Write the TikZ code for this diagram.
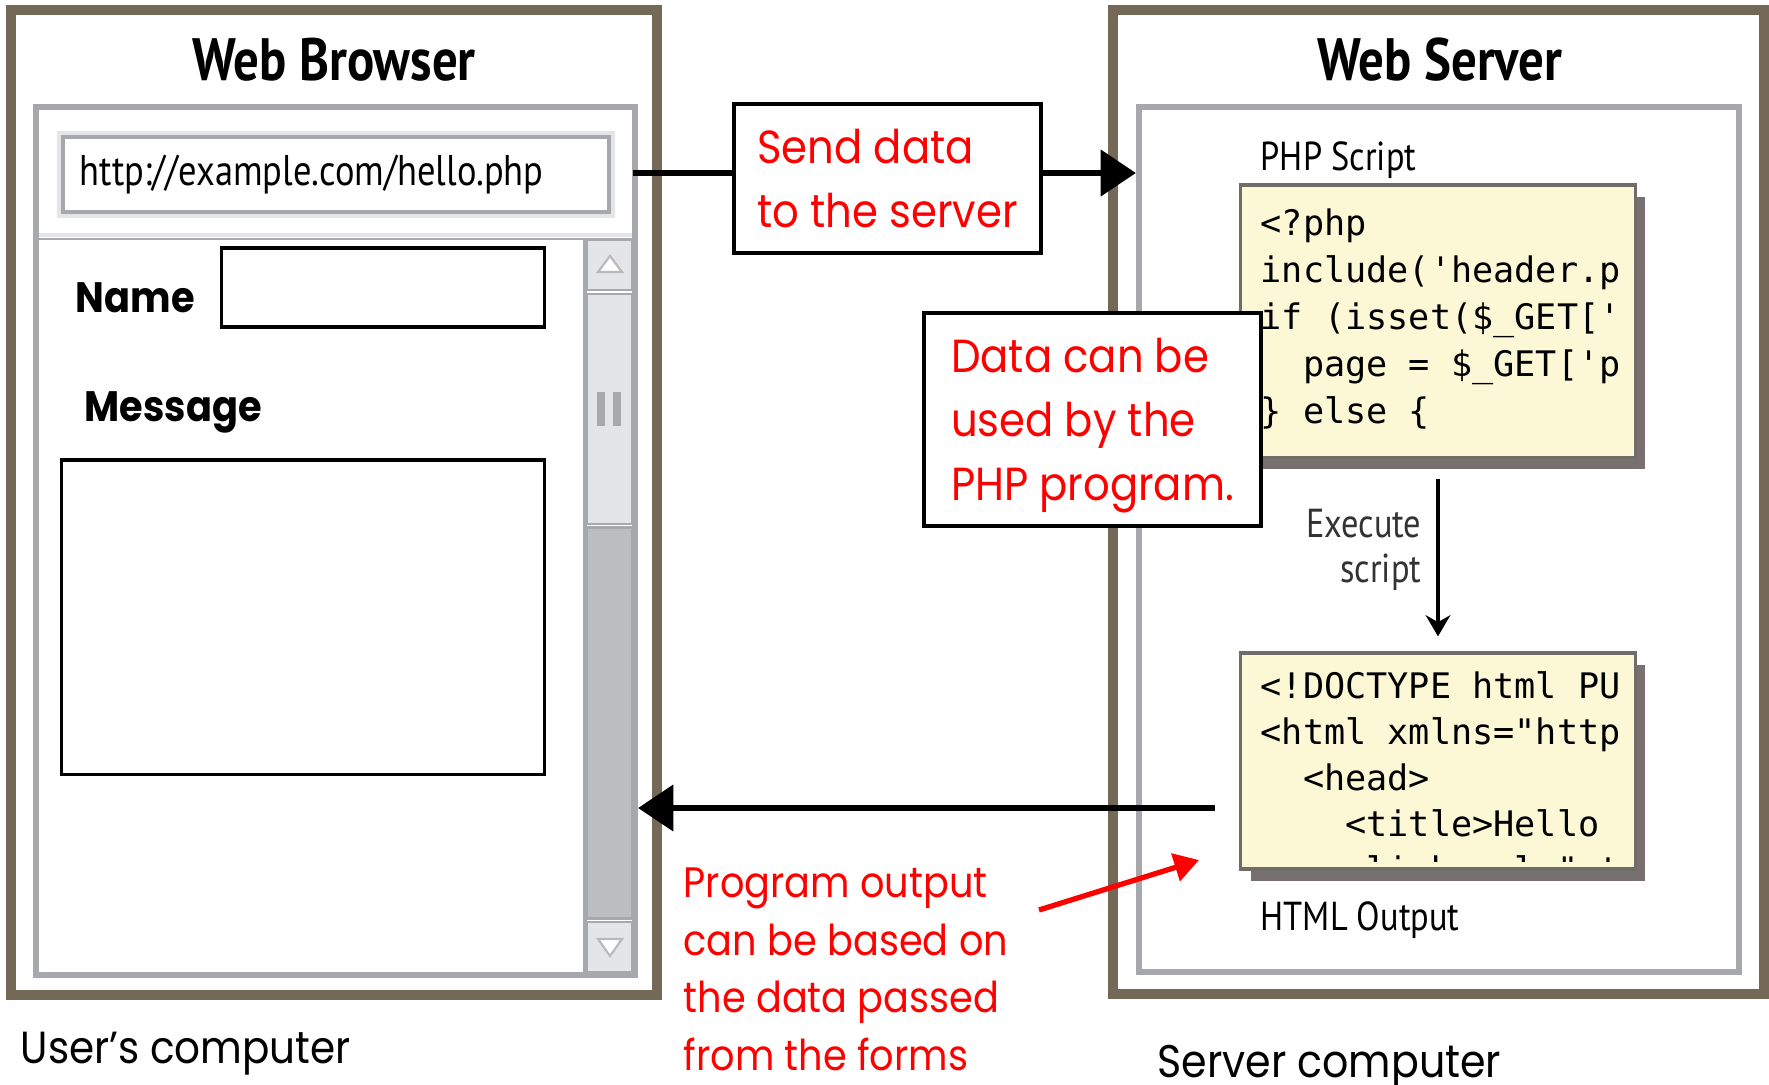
\documentclass[tikz,border=0pt]{standalone}
\usepackage{fontspec}
\usetikzlibrary{positioning,arrows.meta,shadows}

\newfontfamily\uifont[FakeStretch=0.85]{PT Sans}
\newfontfamily\notefont[FakeStretch=0.9]{Poppins}
\newfontfamily\codefont[Ligatures=TeXOff]{DejaVu Sans Mono}

\definecolor{framebrown}{HTML}{746857}
\definecolor{uigray}{HTML}{A7A8AB}
\definecolor{uilight}{HTML}{E4E5E7}
\definecolor{trackgray}{HTML}{BCBDC0}
\definecolor{codeyellow}{HTML}{FCF8D6}
\definecolor{codeedge}{HTML}{706C68}
\definecolor{codeshadow}{HTML}{78706F}
\definecolor{notered}{HTML}{FF0000}

\begin{document}
\begin{tikzpicture}[x=0.01cm,y=-0.01cm,
  machine/.style={draw=framebrown,line width=2.85pt,fill=white,inner sep=0pt},%
  window/.style={draw=uigray,line width=1.7pt,fill=white,inner sep=0pt},%
  field/.style={draw=black,line width=0.9pt,fill=white,inner sep=0pt},%
  notebox/.style={draw=black,line width=0.95pt,fill=white,inner sep=0pt,
    align=left,text=notered,font=\notefont\fontsize{13.2}{18.2}\selectfont},%
  codebox/.style={draw=codeedge,line width=0.9pt,fill=codeyellow,inner sep=0pt,
    drop shadow={shadow xshift=0.1cm,shadow yshift=-0.12cm,fill=codeshadow,opacity=1}},%
  codeline/.style={anchor=base west,inner sep=0pt,
    font=\codefont\fontsize{10}{12}\selectfont},%
  scrollpart/.style={draw=uigray,line width=0.8pt,inner sep=0pt,minimum width=0.45cm},%
  titletext/.style={inner sep=0pt,font=\uifont\bfseries\fontsize{17}{20}\selectfont},%
  uitext/.style={inner sep=0pt,font=\uifont\fontsize{11.5}{13}\selectfont},%
  formlabel/.style={inner sep=0pt,font=\notefont\bfseries\fontsize{12.1}{15}\selectfont},%
  bigarrow/.style={-{Triangle[length=10pt,width=13pt]},line width=1.5pt},%
  execarrow/.style={-{Stealth[length=6pt,width=7pt]},line width=1pt},%
  notearrow/.style={-{Triangle[length=7pt,width=8pt]},line width=1.5pt,draw=notered}]
\useasboundingbox (0,0) rectangle (1769,1084);

%% the two computers
\node[machine,minimum width=6.46cm,minimum height=9.85cm] (browser) at (334,502.5) {};
\node[machine,minimum width=6.51cm,minimum height=9.84cm] (server) at (1438.5,502) {};
\node[titletext,anchor=base] (browsertitle) at (334,80) {Web Browser};
\node[titletext,anchor=base] (servertitle) at (1440,80) {Web Server};

%% browser window
\node[window,minimum width=5.99cm,minimum height=8.68cm] (brin) at (335.5,541) {};
\node[inner sep=0pt,minimum width=5.93cm,minimum height=1.26cm] (urlbar) at (335.5,173) {};
\draw[uilight,line width=1.4pt] (39,235) -- (632,235);
\draw[uigray,line width=0.8pt] (39,239) -- (632,239);
\node[draw=uigray,line width=1.1pt,fill=white,inner xsep=0.17cm,inner ysep=0pt,
  preaction={draw=uilight,line width=3.2pt},
  minimum width=5.46cm,minimum height=0.75cm,text width=5.12cm,align=left,
  font=\uifont\fontsize{12.2}{14}\selectfont] (url) at (336,174.5) {http://example.com/hello.php};

%% form fields
\node[formlabel,anchor=base west] (namelabel) at (75,312) {Name};
\node[field,minimum width=3.22cm,minimum height=0.79cm] (namefield) at (383,287.5) {};
\node[formlabel,anchor=base west] (messagelabel) at (84,421) {Message};
\node[field,minimum width=4.82cm,minimum height=3.14cm] (messagefield) at (303,617) {};

%% scroll bar
\draw[uigray,line width=1.4pt] (585,240) -- (585,973);
\node[scrollpart,fill=uilight,minimum height=0.5cm] (scrollup) at (609.5,265) {};
\node[scrollpart,fill=uilight,minimum height=2.3cm] (thumb) at (609.5,409) {};
\node[scrollpart,fill=trackgray,minimum height=3.9cm] (track) at (609.5,723) {};
\node[scrollpart,fill=uilight,minimum height=0.5cm] (scrolldown) at (609.5,947) {};
\draw[uigray!80,fill=white,line width=0.6pt] (598,272) -- (622,272) -- (610,256) -- cycle;
\draw[uigray!80,fill=white,line width=0.6pt] (598,939) -- (622,939) -- (610,956) -- cycle;
\foreach \gx in {601,617}
  \draw[uigray,line width=2.2pt] (\gx,392) -- (\gx,426);

%% server window
\node[window,minimum width=6.00cm,minimum height=8.65cm] (srvin) at (1439,539.5) {};
\node[uitext,anchor=base west] (phplabel) at (1260,170) {PHP Script};
\node[codebox,minimum width=3.94cm,minimum height=2.72cm] (phpbox) at (1438,321) {};
\node[codebox,minimum width=3.94cm,minimum height=2.16cm] (htmlbox) at (1438,761) {};
\node[uitext,anchor=base west] (htmllabel) at (1260,930) {HTML Output};

%% code listings
\begin{scope}
  \clip (1244,188) rectangle (1619,454);
  \foreach \codetext [count=\k from 0] in {<?php, include('header.php');,
      if (isset(\$\_GET['page'])) \{, \hphantom{xx}page = \$\_GET['page'];, \} else \{}
    \node[codeline] (php\k) at (1260,{235+47*\k}) {\codetext};
\end{scope}
\begin{scope}
  \clip (1244,656) rectangle (1619,861);
  \foreach \codetext [count=\k from 0] in {<!DOCTYPE html PUBLIC,
      <html xmlns="http://www.w3.org/1999/xhtml">, \hphantom{xx}<head>,
      \hphantom{xxxx}<title>Hello World</title>, \hphantom{xxxx}<link rel="stylesheet"}
    \node[codeline] (html\k) at (1260,{698+46*\k}) {\codetext};
\end{scope}

\draw[execarrow,shorten <=0.2cm,shorten >=0.15cm] (phpbox.south) -- (htmlbox.north);
\node[uitext,anchor=north east,align=right,text=black!80,
  font=\uifont\fontsize{11.5}{12.8}\selectfont] (execlabel) at (1422,508) {Execute\\script};

%% requests and responses
\draw[bigarrow] (urlbar.east) -- (urlbar.east -| srvin.west);
\node[notebox,minimum width=3.07cm,minimum height=1.49cm] (sendnote) at (887.5,178.5)
  {Send data\\to the server};
\node[notebox,minimum width=3.37cm,minimum height=2.13cm,text depth=0pt] (usenote)
  at (1092.5,419.5) {Data can be\\used by the\\PHP program.};

\coordinate (outfrom) at (1215,808);
\draw[bigarrow] (outfrom) -- (outfrom -| brin.east);

\node[inner sep=0pt,anchor=north west,align=left,text=notered,
  font=\notefont\fontsize{12.1}{16.4}\selectfont] (outnote) at (683,867)
  {Program output\\can be based on\\the data passed\\from the forms};
\coordinate (notetail) at (1039,910);
\coordinate (notehead) at (1199,860);
\draw[notearrow] (notetail) -- (notehead);

%% captions
\node[inner sep=0pt,anchor=base west,font=\notefont\fontsize{12.8}{15}\selectfont]
  (usercaption) at (20,1063) {User’s computer};
\node[inner sep=0pt,anchor=base west,font=\notefont\fontsize{13}{15}\selectfont]
  (servercaption) at (1157,1077) {Server computer};
\end{tikzpicture}
\end{document}
